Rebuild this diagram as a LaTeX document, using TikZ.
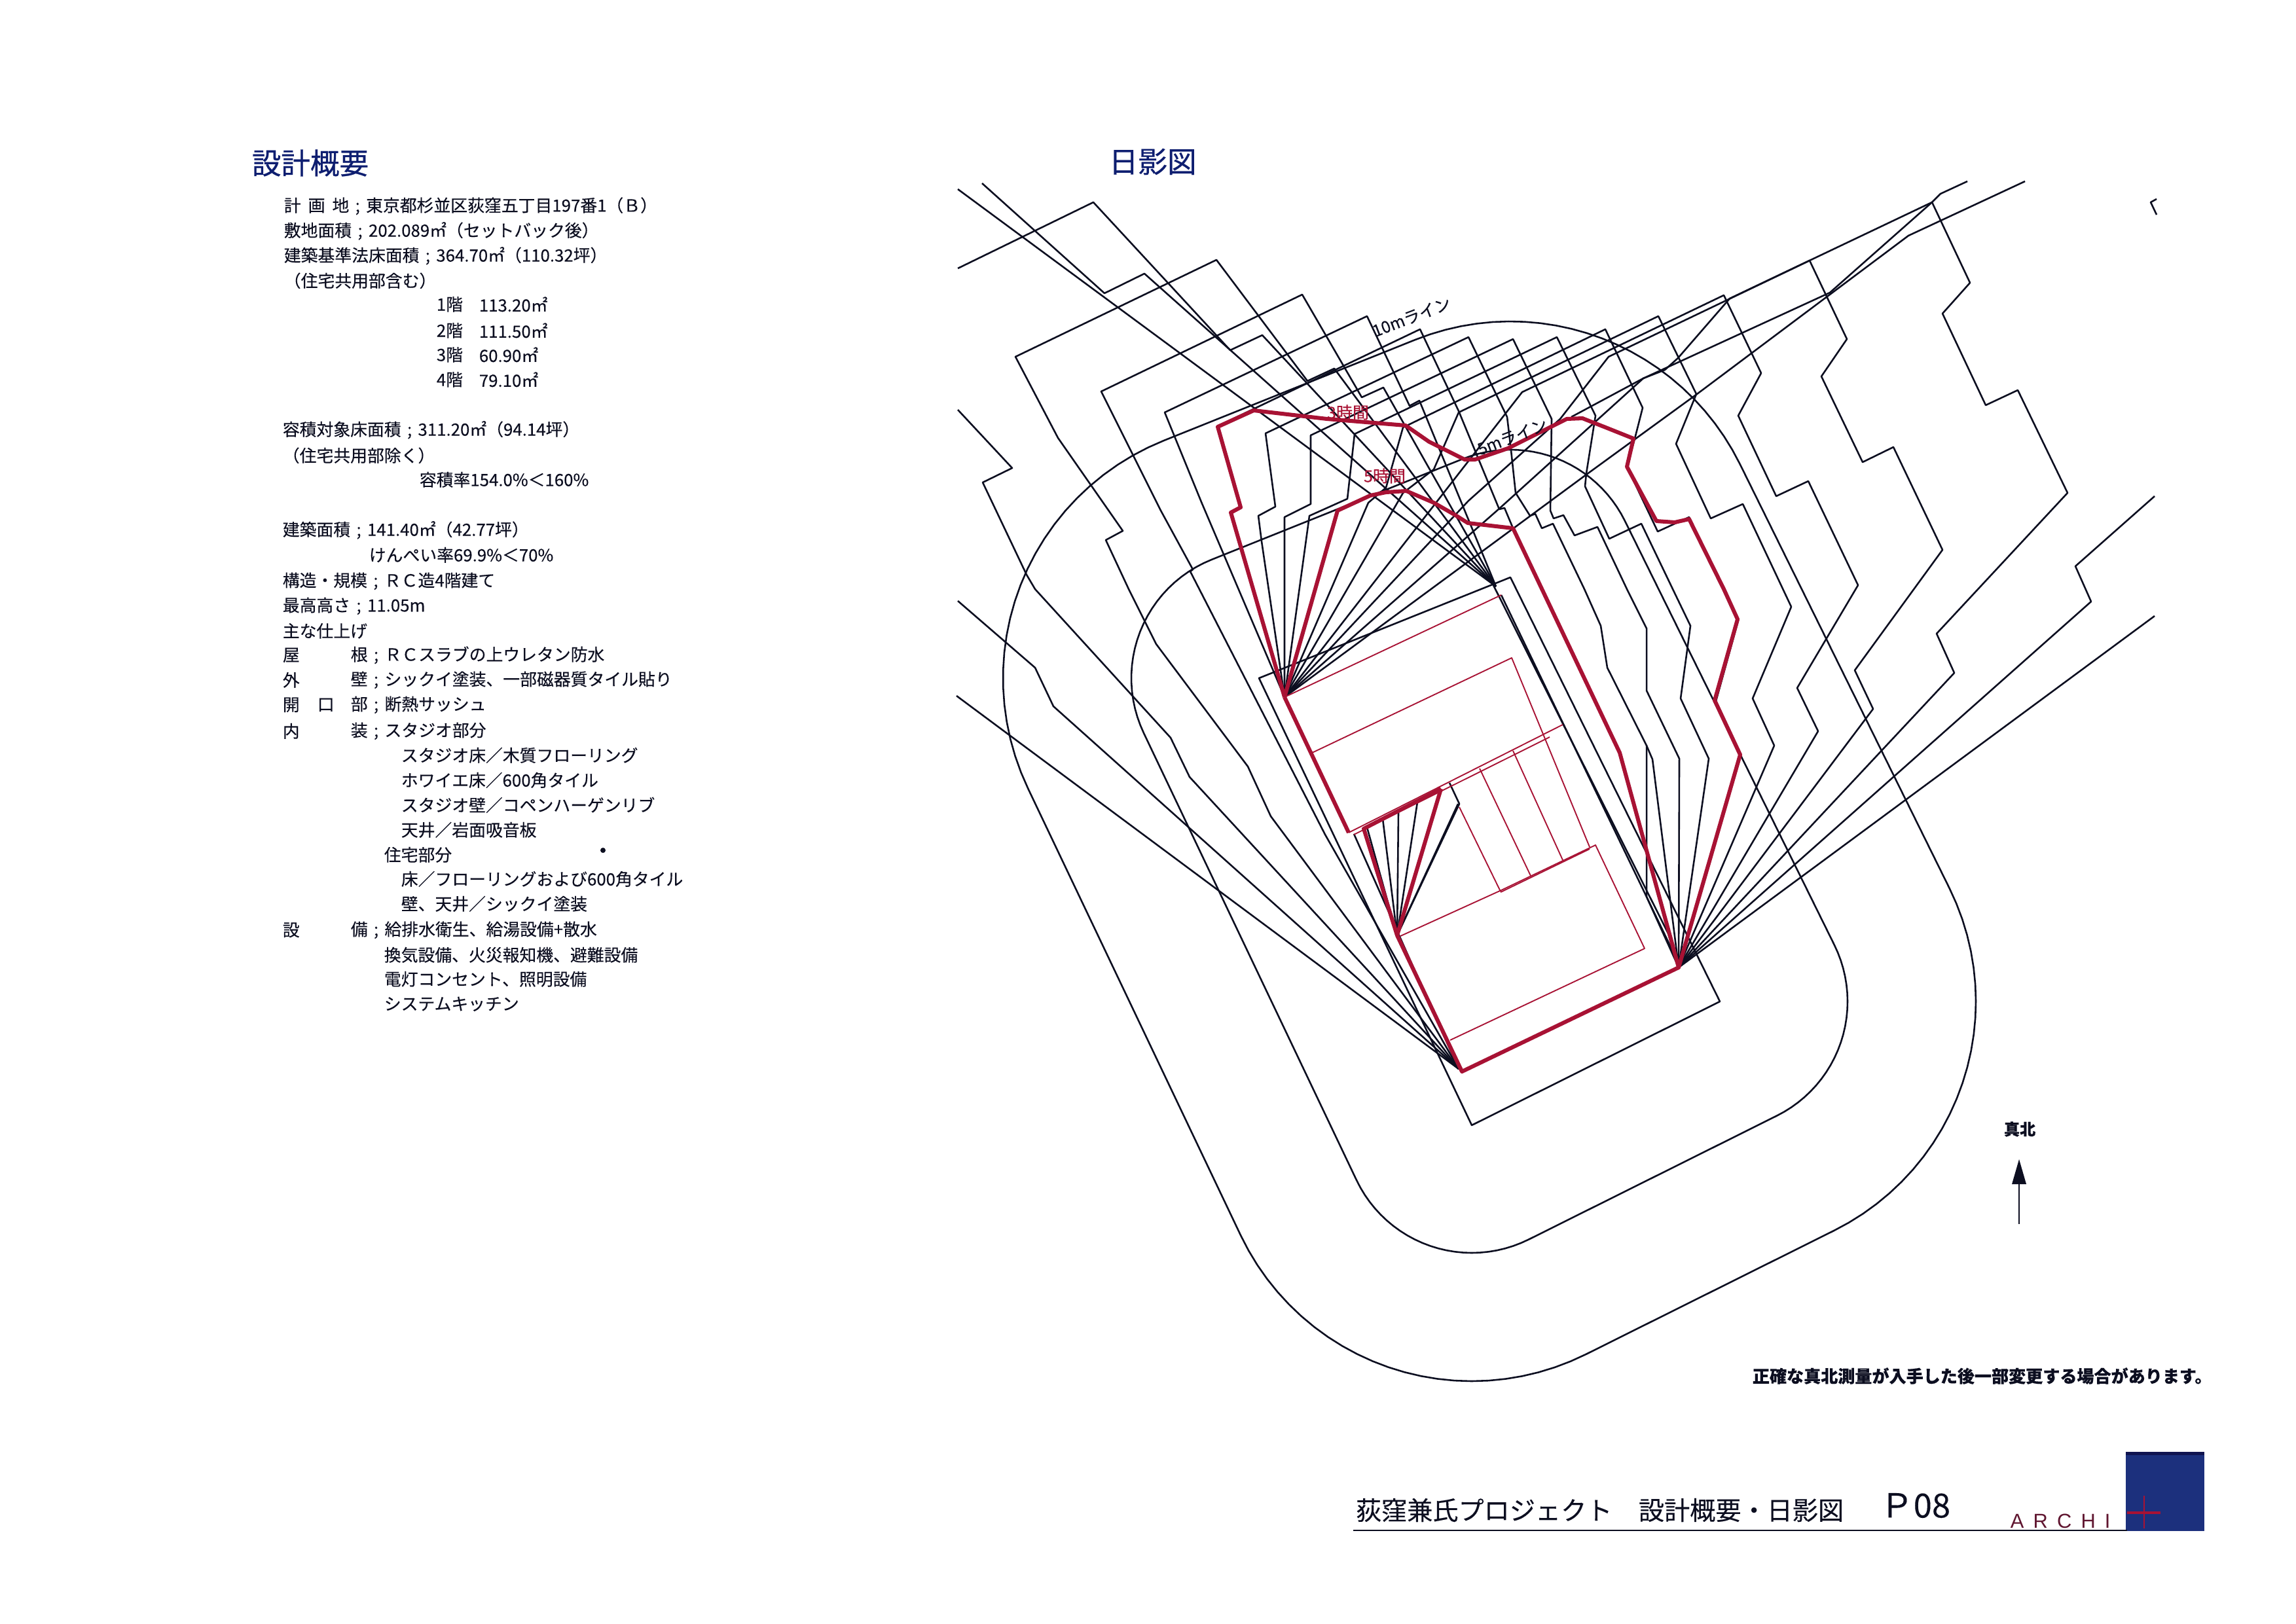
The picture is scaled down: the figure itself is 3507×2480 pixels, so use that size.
\documentclass[tikz,border=0pt]{standalone}
\usepackage{fontspec}
\setmainfont{Noto Sans CJK JP}[WordSpace=1.9,FakeBold=0.2]
\newfontfamily\headfont{Noto Sans CJK JP}[FakeBold=0.6]
\newfontfamily\archifont{Liberation Sans}[LetterSpace=46]
\definecolor{ink}{RGB}{12,14,32}
\definecolor{rd}{RGB}{168,18,52}
\definecolor{navy}{RGB}{14,30,112}
\definecolor{maroon}{RGB}{96,22,48}
\definecolor{logo}{RGB}{28,48,125}
\definecolor{logotop}{RGB}{16,20,80}
\newcommand{\semi}{\makebox[1em]{;}}
\tikzset{
 ln/.style={draw=ink,line width=0.62pt,line join=round},
 thk/.style={draw=rd,line width=1.45pt,line join=round},
 thn/.style={draw=rd,line width=0.45pt,line join=round},
 bt/.style={anchor=west,inner sep=0pt,yshift=-0.2pt,text=ink,font=\fontsize{6.2}{7}\selectfont},
 hd/.style={anchor=west,inner sep=0pt,text=navy,font=\fontsize{10.7}{11}\headfont},
 lab/.style={inner sep=0pt,font=\fontsize{6}{7}\selectfont},
}
% rounded offset of the site outline, radius #1
\newcommand{\siteoffset}[1]{%
 \draw[ln] plot[domain=248.2:333.7,samples=25] ({2307+#1*cos(\x)},{882+#1*sin(\x)})
  -- plot[domain=333.7:423.5,samples=25] ({2627+#1*cos(\x)},{1530+#1*sin(\x)})
  -- plot[domain=63.5:154.5,samples=25] ({2248+#1*cos(\x)},{1719+#1*sin(\x)})
  -- plot[domain=154.5:248.2,samples=25] ({1923+#1*cos(\x)},{1036+#1*sin(\x)}) -- cycle;}
\begin{document}
\begin{tikzpicture}[x=0.24pt,y=-0.24pt]
\useasboundingbox (0,0) rectangle (3507,2480);
\fill[white] (0,0) rectangle (3507,2480);
\coordinate (A) at (1962,1065);
\coordinate (Q) at (2285,896);
\coordinate (F) at (2564,1478);
\coordinate (P) at (2228,1633);
\coordinate (D) at (2134,1429);
% 10m and 5m lines
\siteoffset{391}
\siteoffset{195}
% site
\draw[ln] (1923,1036) -- (2307,882) -- (2627,1530) -- (2248,1719) -- cycle;
% shadow contours
\draw[ln] (1463,410) -- (1670,309) -- (1879,535) -- (1928,512) -- (Q);
\draw[ln] (1463,289) -- (Q);
\draw[ln] (1500,280) -- (1687,448) -- (1748,418) -- (Q);
\draw[ln] (Q) -- (2038,563) -- (1997,582) -- (1858,397) -- (1551,545) -- (1616,669) -- (1715,811) -- (1689,825) -- (1724,900) -- (1766,984) -- (1906,1171) -- (1941,1247) -- (P);
\draw[ln] (Q) -- (2113,592) -- (2080,607) -- (1989,450) -- (1682,598) -- (1773,780) -- (1822,870) -- (1818,873) -- (2024,1275) -- (P);
\draw[ln] (Q) -- (2168,612) -- (2153,620) -- (2088,483) -- (1779,630) -- (1835,767) -- (A);
\draw[ln] (1860,651) -- (2169,503) -- (2228,628) -- (2290,778) -- (2298,776) -- (2311,807);
\draw[ln] (A) -- (1927,827) -- (1922,788) -- (1948,774) -- (1933,662) -- (2243,515) -- (2302,637) -- (2308,688) -- (2315,753) -- (2337,788) -- (2345,785) -- (2355,807) -- (2372,800) -- (2420,900) -- (2445,956) -- (2455,1020) -- (2515,1139) -- (2515,1370) -- (F);
\draw[ln] (2515,1139) -- (2524,1160) -- (F);
\draw[ln] (A) -- (1962,790) -- (2002,770) -- (2002,665) -- (2311,518) -- (2370,640) -- (2368,780) -- (2373,792) -- (2388,787) -- (2405,818) -- (2440,805) -- (2485,900) -- (2515,960) -- (2515,1055) -- (2565,1159) -- (F);
\draw[ln] (A) -- (2000,788) -- (2058,762) -- (2069,663) -- (2378,515) -- (2437,635) -- (2423,723) -- (2421,743) -- (2458,823) -- (2507,800) -- (2555,900) -- (2582,956) -- (2567,1067) -- (2610,1159) -- (F);
\draw[ln] (A) -- (2090,768) -- (2117,745) -- (2143,653) -- (2452,503) -- (2509,623) -- (2497,670) -- (2485,713) -- (2532,812) -- (2580,790) -- (2633,900) -- (2655,948) -- (2621,1071) -- (2658,1151) -- (F);
\draw[ln] (A) -- (2143,753) -- (2190,717) -- (2228,630) -- (2533,483) -- (2591,602) -- (2560,678) -- (2613,792) -- (2662,770) -- (2736,927) -- (2677,1067) -- (2710,1139) -- (F);
\draw[ln] (A) -- (2325,599) -- (2633,451) -- (2690,570) -- (2655,635) -- (2713,758) -- (2762,735) -- (2838,894) -- (2745,1051) -- (2777,1117) -- (F);
\draw[ln] (A) -- (2243,765) -- (2383,640) -- (2457,545) -- (2764,398) -- (2821,518) -- (2782,575) -- (2845,706) -- (2892,683) -- (2967,840) -- (2833,1024) -- (2861,1083) -- (F);
\draw[ln] (A) -- (2290,777) -- (2510,578) -- (2543,565) -- (2563,547) -- (2642,456) -- (2951,309) -- (3009,432) -- (2967,479) -- (3033,619) -- (3082,596) -- (3158,753) -- (2958,968) -- (2985,1028) -- (F);
\draw[ln] (3005,277) -- (2964,296) -- (2951,309) -- (2795,447) -- (2510,578) -- (2400,637);
\draw[ln] (A) -- (2423,725) -- (2592,602) -- (2915,360) -- (3093,277);
\draw[ln] (3291,758) -- (3170,865) -- (3194,919) -- (F);
\draw[ln] (3291,941) -- (F);
\draw[ln] (3294,304) -- (3285,309) -- (3294,328);
\draw[ln] (1463,626) -- (1546,715) -- (1501,737) -- (1568,878) -- (1581,900) -- (1788,1127) -- (1817,1187) -- (P);
\draw[ln] (1463,918) -- (1581,1020) -- (1609,1079) -- (P);
\draw[ln] (1461,1063) -- (P);
% close parallels
\draw[ln] (2280,892) -- (2548,1426) -- (F);
\draw[ln] (2293,909) -- (2553,1449) -- (F);
\draw[ln] (2068,1274) -- (P);
% fan under the lower wing
\draw[ln] (D) -- (2088,1264);
\draw[ln] (D) -- (2112,1251);
\draw[ln] (D) -- (2136,1239);
\draw[ln] (D) -- (2165,1225);
\draw[ln] (D) -- (2227,1228);
\draw[ln] (D) -- (2229,1228) -- (2214,1196);
% building thin red
\draw[thn] (A) -- (2293,909);
\draw[thn] (2002,1151) -- (2309,1005) -- (2428,1294);
\draw[thn] (2060,1272) -- (2387,1107);
\draw[thn] (2068,1275) -- (2367,1126);
\draw[thn] (2229,1233) -- (2292,1362);
\draw[thn] (2260,1174) -- (2338,1338);
\draw[thn] (2311,1147) -- (2387,1314);
\draw[thn] (2139,1430) -- (2293,1360) -- (2437,1291) -- (2512,1449) -- (2215,1589);
\draw[thn] (2292,1363) -- (2428,1297);
% thick red
\draw[thk] (A) -- (2060,1272);
\draw[thk] (2201,1205) -- (2083,1266) -- (D) -- (2233,1637) -- (F) -- (2474,1150) -- (2311,807) -- (2242,799) -- (2223,787) -- (2190,768) -- (2148,750) -- (2117,752) -- (2093,757) -- (2043,780) -- (A);
\draw[thk] (D) -- (2201,1205);
\draw[thk] (A) -- (1880,783) -- (1895,775) -- (1860,652) -- (1915,627) -- (2027,640) -- (2147,650) -- (2183,675) -- (2237,702) -- (2253,702) -- (2303,685) -- (2367,653) -- (2393,640) -- (2417,639) -- (2450,652) -- (2495,670) -- (2485,713) -- (2530,796) -- (2558,798) -- (2580,793) -- (2633,900) -- (2654,946) -- (2619,1070) -- (2658,1153) -- (F);
% labels in the plan
\node[lab,text=rd] (h3) at (2059,630) {3時間};
\node[lab,text=rd] (h5) at (2115,727) {5時間};
\node[lab,text=ink,rotate=21] (m10) at (2156,484) {10mライン};
\node[lab,text=ink,rotate=21] (m5) at (2310,667) {5mライン};
% north arrow
\node[inner sep=0pt,text=ink,font=\fontsize{5.8}{7}\selectfont\bfseries] (north) at (3085,1725) {真北};
\coordinate (ntip) at (3084,1771);
\coordinate (ntail) at (3084,1870);
\fill[ink] (ntip) -- (3073,1809) -- (3095,1809) -- cycle;
\draw[ln] (3084,1809) -- (ntail);
% headings
\node[hd] (t1) at (384,249) {設計概要};
\node[hd] (t2) at (1693,247) {日影図};
% text block
\node[bt] (a1) at (433,314) {計 画 地\semi 東京都杉並区荻窪五丁目197番1（Ｂ）};
\node[bt] (a2) at (433,352) {敷地面積\semi 202.089㎡（セットバック後）};
\node[bt] (a3) at (433,390) {建築基準法床面積\semi 364.70㎡（110.32坪）};
\node[bt] (a4) at (433,428) {（住宅共用部含む）};
\node[bt] (f1) at (666,464) {1階};
\node[bt] (v1) at (731,464) {113.20㎡};
\node[bt] (f2) at (666,504) {2階};
\node[bt] (v2) at (731,504) {111.50㎡};
\node[bt] (f3) at (666,541) {3階};
\node[bt] (v3) at (731,541) {60.90㎡};
\node[bt] (f4) at (666,579) {4階};
\node[bt] (v4) at (731,579) {79.10㎡};
\node[bt] (b1) at (431,656) {容積対象床面積\semi 311.20㎡（94.14坪）};
\node[bt] (b2) at (431,695) {（住宅共用部除く）};
\node[bt] (b3) at (640,732) {容積率154.0\%＜160\%};
\node[bt] (c1) at (431,809) {建築面積\semi 141.40㎡（42.77坪）};
\node[bt] (c2) at (563,847) {けんぺい率69.9\%＜70\%};
\node[bt] (c3) at (431,887) {構造・規模\semi ＲＣ造4階建て};
\node[bt] (c4) at (431,925) {最高高さ\semi 11.05m};
\node[bt] (c5) at (431,963) {主な仕上げ};
\node[bt] (d1a) at (431,1000) {屋};
\node[bt] (d1b) at (535,1000) {根\semi ＲＣスラブの上ウレタン防水};
\node[bt] (d2a) at (431,1038) {外};
\node[bt] (d2b) at (535,1038) {壁\semi シックイ塗装、一部磁器質タイル貼り};
\node[bt] (d3a) at (431,1076) {開};
\node[bt] (d3m) at (484,1076) {口};
\node[bt] (d3b) at (535,1076) {部\semi 断熱サッシュ};
\node[bt] (d4a) at (431,1116) {内};
\node[bt] (d4b) at (535,1116) {装\semi スタジオ部分};
\node[bt] (e1) at (612,1153) {スタジオ床／木質フローリング};
\node[bt] (e2) at (612,1191) {ホワイエ床／600角タイル};
\node[bt] (e3) at (612,1229) {スタジオ壁／コペンハーゲンリブ};
\node[bt] (e4) at (612,1267) {天井／岩面吸音板};
\node[bt] (e5) at (586,1305) {住宅部分};
\node[bt] (e6) at (612,1342) {床／フローリングおよび600角タイル};
\node[bt] (e7) at (612,1380) {壁、天井／シックイ塗装};
\node[bt] (g1a) at (431,1420) {設};
\node[bt] (g1b) at (535,1420) {備\semi 給排水衛生、給湯設備+散水};
\node[bt] (g2) at (586,1458) {換気設備、火災報知機、避難設備};
\node[bt] (g3) at (586,1495) {電灯コンセント、照明設備};
\node[bt] (g4) at (586,1533) {システムキッチン};
\fill[ink] (921,1299) circle (4);
% note
\node[anchor=west,inner sep=0pt,text=ink,font=\fontsize{6.26}{7}\selectfont\bfseries] (note) at (2676,2102) {正確な真北測量が入手した後一部変更する場合があります。};
% title block
\fill[logo] (3247,2218) rectangle (3367,2339);
\fill[logotop] (3247,2218) rectangle (3367,2223);
\draw[rd,line width=0.5pt] (3275,2285) -- (3275,2335);
\draw[rd,line width=0.8pt] (3249,2311) -- (3300,2311);
\draw[ink,line width=0.6pt] (2067,2338) -- (3249,2338);
\node[anchor=west,inner sep=0pt,text=ink,font=\fontsize{9.4}{11}\selectfont] (p1) at (2070,2307) {荻窪兼氏プロジェクト};
\node[anchor=west,inner sep=0pt,text=ink,font=\fontsize{9.4}{11}\selectfont] (p2) at (2502,2307) {設計概要・日影図};
\node[anchor=west,inner sep=0pt,text=ink,font=\fontsize{12.2}{15}\selectfont] (p3) at (2871,2300) {Ｐ08};
\node[anchor=west,inner sep=0pt,text=maroon,font=\fontsize{7.4}{9}\archifont] (p4) at (3070,2324) {ARCHI};
\end{tikzpicture}
\end{document}
